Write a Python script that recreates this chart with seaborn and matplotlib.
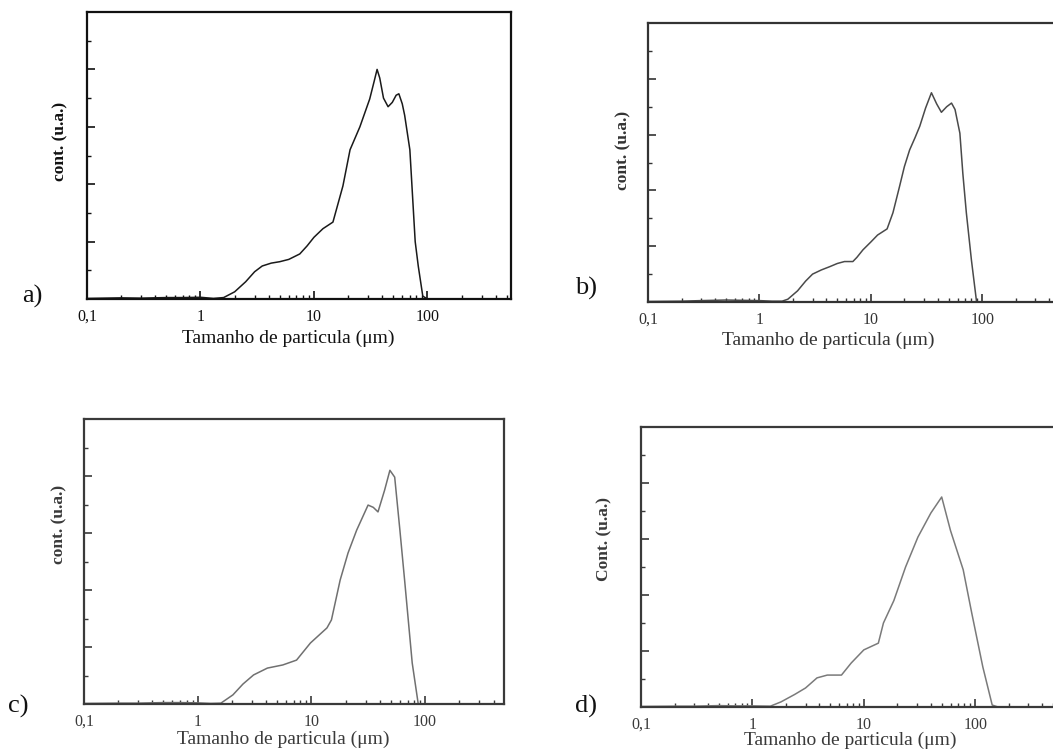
import matplotlib
matplotlib.use("Agg")
import matplotlib.pyplot as plt
from matplotlib.ticker import LogLocator, FixedLocator, FixedFormatter, MultipleLocator, NullFormatter
import numpy as np
import pandas as pd
import seaborn as sns

sns.set_style("white")
plt.rcParams["font.family"] = ["Liberation Serif", "DejaVu Serif"]

# Particle size distributions (size in µm, counts in arbitrary units)
size_a = [0.1, 0.2, 0.3, 0.5, 0.7, 1.0, 1.3, 1.6, 2.0, 2.5, 3.0, 3.5, 4.2, 5.0, 6.0,
          7.5, 8.7, 10, 12, 14.7, 18, 20.8, 25.4, 31, 34, 36, 38, 41, 45, 49, 53,
          56, 60, 63, 70, 78, 83, 91, 100, 200, 500]
count_a = [0.02, 0.04, 0.03, 0.05, 0.05, 0.06, 0.02, 0.05, 0.25, 0.6, 0.95, 1.15, 1.25,
           1.3, 1.38, 1.57, 1.85, 2.15, 2.45, 2.68, 3.94, 5.2, 6.0, 6.97, 7.6, 8.0, 7.7,
           7.0, 6.7, 6.85, 7.1, 7.15, 6.8, 6.4, 5.2, 2.0, 1.15, 0.1, 0.0, 0.0, 0.0]

size_b = [0.1, 0.2, 0.3, 0.5, 0.7, 1.0, 1.3, 1.6, 1.8, 2.2, 2.6, 3.0, 3.6, 4.3, 5.0,
          5.8, 6.9, 7.5, 8.5, 10, 11.5, 14, 15.8, 18, 20, 22.3, 25, 27.5, 31, 35, 39,
          43, 48, 53, 57, 63, 67, 72, 80, 89, 100, 200, 500]
count_b = [0.02, 0.03, 0.05, 0.07, 0.06, 0.05, 0.03, 0.03, 0.1, 0.4, 0.75, 1.0, 1.15,
           1.27, 1.38, 1.45, 1.45, 1.6, 1.87, 2.15, 2.4, 2.62, 3.2, 4.1, 4.85, 5.45,
           5.9, 6.3, 6.95, 7.5, 7.1, 6.8, 7.0, 7.13, 6.9, 6.05, 4.6, 3.2, 1.5, 0.0,
           0.0, 0.0, 0.0]

size_c = [0.1, 0.2, 0.3, 0.5, 0.7, 1.0, 1.3, 1.6, 2.04, 2.5, 3.1, 4.1, 5.6, 7.4, 9.8,
          13.7, 15, 17.9, 21, 25, 31.5, 35, 38.5, 44, 49, 54, 60, 66, 77, 87, 100,
          200, 500]
count_c = [0.02, 0.03, 0.03, 0.05, 0.05, 0.04, 0.02, 0.03, 0.32, 0.7, 1.02, 1.26, 1.37,
           1.54, 2.14, 2.67, 2.95, 4.35, 5.3, 6.1, 6.98, 6.9, 6.74, 7.5, 8.2, 7.96,
           6.1, 4.35, 1.44, 0.0, 0.0, 0.0, 0.0]

size_d = [0.1, 0.2, 0.3, 0.5, 0.7, 1.0, 1.45, 1.8, 2.4, 3.0, 3.8, 4.7, 6.3, 7.7, 10,
          13.5, 15, 18.6, 23.7, 30.6, 40, 50, 60, 78, 93, 117, 142, 160, 300, 500]
count_d = [0.02, 0.03, 0.03, 0.05, 0.04, 0.04, 0.03, 0.18, 0.45, 0.68, 1.04, 1.14,
           1.14, 1.57, 2.04, 2.28, 3.0, 3.8, 5.0, 6.07, 6.93, 7.5, 6.3, 4.9, 3.36,
           1.43, 0.07, 0.0, 0.0, 0.0]

panel_tags = ["a)", "b)", "c)", "d)"]
ylabels = ["cont. (u.a.)", "cont. (u.a.)", "cont. (u.a.)", "Cont. (u.a.)"]
xlabel = "Tamanho de particula (\u03bcm)"
xtick_values = [0.1, 1, 10, 100]
xtick_labels = ["0,1", "1", "10", "100"]

W, H = 1053, 751
fig = plt.figure(figsize=(W / 100, H / 100), dpi=100)


def frame(left, top, right, bottom):
    return [left / W, 1 - bottom / H, (right - left) / W, (bottom - top) / H]


# frame box (left, top, right, bottom) in pixels, x upper limit, ink and line colours,
# panel tag position, y-label and x-label anchors in axes coordinates
layout = [
    dict(box=(87, 12, 511, 299), xmax=545, ink="#111111", line="#1a1a1a",
         tag=(22, 296), ylab=(-0.045, 0.55), xlab=(0.475, -0.108)),
    dict(box=(648, 23, 1062, 302), xmax=520, ink="#333333", line="#4a4a4a",
         tag=(575, 288), ylab=(-0.04, 0.545), xlab=(0.435, -0.105)),
    dict(box=(84, 419, 504, 704), xmax=494, ink="#3a3a3a", line="#707070",
         tag=(8, 706), ylab=(-0.04, 0.63), xlab=(0.475, -0.092)),
    dict(box=(641, 427, 1055, 707), xmax=520, ink="#3a3a3a", line="#7a7a7a",
         tag=(575, 706), ylab=(-0.068, 0.6), xlab=(0.505, -0.087)),
]
series = [(size_a, count_a), (size_b, count_b), (size_c, count_c), (size_d, count_d)]

for i, (cfg, (sx, sy)) in enumerate(zip(layout, series)):
    ax = fig.add_axes(frame(*cfg["box"]))
    df = pd.DataFrame({"size": sx, "count": sy})
    sns.lineplot(data=df, x="size", y="count", ax=ax, color=cfg["line"],
                 linewidth=1.1, estimator=None, sort=True)
    ax.set_xscale("log")
    ax.set_xlim(0.1, cfg["xmax"])
    ax.set_ylim(0, 10)

    ax.xaxis.set_major_locator(FixedLocator(xtick_values))
    ax.xaxis.set_major_formatter(FixedFormatter(xtick_labels))
    ax.xaxis.set_minor_locator(LogLocator(base=10, subs=np.arange(2, 10), numticks=20))
    ax.xaxis.set_minor_formatter(NullFormatter())
    ax.yaxis.set_major_locator(MultipleLocator(2))
    ax.yaxis.set_minor_locator(MultipleLocator(1))
    ax.yaxis.set_major_formatter(NullFormatter())

    ax.tick_params(axis="both", which="both", bottom=True, left=True, top=False,
                   right=False, direction="in", color=cfg["ink"])
    ax.tick_params(axis="both", which="major", length=6, width=1.2,
                   labelsize=11.5, labelcolor=cfg["ink"], pad=7)
    ax.tick_params(axis="both", which="minor", length=3, width=1.0)
    for side in ax.spines.values():
        side.set_color(cfg["ink"])
        side.set_linewidth(1.6)

    ax.set_xlabel(xlabel, fontsize=14, color=cfg["ink"])
    ax.xaxis.set_label_coords(*cfg["xlab"])
    ax.set_ylabel(ylabels[i], fontsize=12.5, fontweight="bold", color=cfg["ink"])
    ax.yaxis.set_label_coords(*cfg["ylab"])

    fig.text(cfg["tag"][0] / W, 1 - cfg["tag"][1] / H, panel_tags[i], fontsize=19,
             ha="left", va="center", color="#111111")

fig.savefig("out.png", dpi=100, facecolor="white")
